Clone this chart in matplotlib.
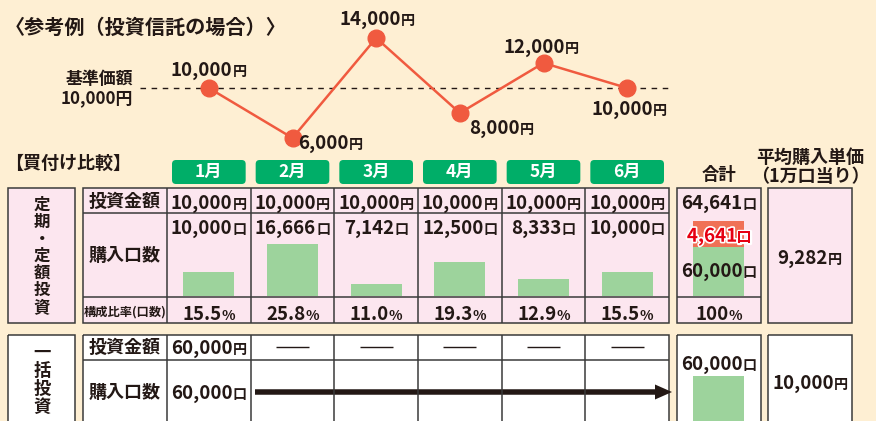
import matplotlib.pyplot as plt
from matplotlib.patches import Rectangle, FancyBboxPatch, FancyArrow
import matplotlib.patheffects as pe

plt.rcParams['font.family'] = ['Noto Sans CJK JP', 'DejaVu Sans']

# data
months = ["1月", "2月", "3月", "4月", "5月", "6月"]
prices = [10000, 6000, 14000, 8000, 12000, 10000]       # 基準価額 (円)
base_price = 10000
amounts = [10000, 10000, 10000, 10000, 10000, 10000]    # 投資金額 (円)
units = [10000, 16666, 7142, 12500, 8333, 10000]        # 購入口数 (口)
shares = ["15.5", "25.8", "11.0", "19.3", "12.9", "15.5"]
total_units = 64641
extra_units = 4641
lump_amount = 60000
lump_units = 60000
avg_dca = 9282
avg_lump = 10000

BG = '#FEEFD3'
PINK = '#FCE6EF'
GREEN_HDR = '#00AE68'
BAR = '#9DD39C'
RED_BAR = '#F07156'
LINE = '#F05A3F'
INK = '#231815'
EDGE = '#3A3A3A'

NUM = 13.5   # size of the figures in the table

W, H = 876, 421
fig = plt.figure(figsize=(W / 100, H / 100), dpi=100, facecolor=BG)


def px_axes(x0, y0, x1, y1, zorder=1):
    a = fig.add_axes([x0 / W, 1 - y1 / H, (x1 - x0) / W, (y1 - y0) / H], zorder=zorder)
    a.axis('off')
    return a


base = px_axes(0, 0, W, H, zorder=0)
base.set_xlim(0, W)
base.set_ylim(H, 0)
top = px_axes(0, 0, W, H, zorder=5)
top.set_xlim(0, W)
top.set_ylim(H, 0)

renderer = fig.canvas.get_renderer()

col_w = (669 - 167) / 6
col_x = [167 + i * col_w for i in range(7)]
col_c = [167 + (i + 0.5) * col_w for i in range(6)]


def num_unit(x, y, num, unit, size=NUM, ratio=0.75, ha='center', color=INK,
             weight='bold', **kw):
    em = size * 100 / 72
    yb = y + 0.36 * em
    t1 = top.text(x, yb, num, fontsize=size, color=color, weight=weight,
                  ha='left', va='baseline', **kw)
    t2 = top.text(x, yb, unit, fontsize=size * ratio, color=color, weight=weight,
                  ha='left', va='baseline', **kw)
    w1 = t1.get_window_extent(renderer).width
    w2 = t2.get_window_extent(renderer).width
    left = {'center': x - (w1 + w2) / 2, 'left': x, 'right': x - w1 - w2}[ha]
    t1.set_x(left)
    t2.set_x(left + w1)


def frame(x0, y0, x1, y1, fill):
    base.add_patch(Rectangle((x0, y0), x1 - x0, y1 - y0, fc=fill, ec='none'))
    top.add_patch(Rectangle((x0, y0), x1 - x0, y1 - y0, fc='none', ec=EDGE, lw=1.1))


def label(x, y, s, size=13, **kw):
    top.text(x, y, s, fontsize=size, weight='bold', color=INK, va='center', **kw)


# titles
label(5, 27, "〈参考例（投資信託の場合）〉", size=14.5, ha='left')
label(5, 163, "【買付け比較】", size=13, ha='left')
label(133, 79, "基準価額", size=12.2, ha='right')
label(133, 98, "10,000円", size=12.2, ha='right')

# price line
line_ax = px_axes(167, 38, 669, 138, zorder=2)
line_ax.set_xlim(-0.5, 5.5)
line_ax.set_ylim(6000, 14000)
xs = list(range(len(prices)))
x_left = (140 - 167) / col_w - 0.5
x_right = (668 - 167) / col_w - 0.5
line_ax.plot([x_left, x_right], [base_price, base_price], ls=(0, (4, 4)), color=INK,
             lw=1.0, clip_on=False, zorder=1)
line_ax.plot(xs, prices, color=LINE, lw=1.8, marker='o', ms=12, clip_on=False, zorder=3)

# price labels: (dx, dy, ha) in pixels relative to each point
label_pos = [(0, -19, 'center'), (6, 4, 'left'), (1, -20, 'center'),
             (9, 14, 'left'), (-2, -17, 'center'), (2, 20, 'center')]
to_px = line_ax.transData + top.transData.inverted()
for i, p in enumerate(prices):
    px, py = to_px.transform((i, p))
    dx, dy, ha = label_pos[i]
    num_unit(px + dx, py + dy, f"{p:,}", "円", ha=ha)

# month headers
for i, m in enumerate(months):
    top.add_patch(FancyBboxPatch((col_x[i] + 5, 160), col_w - 10, 24,
                                 boxstyle='round,pad=0,rounding_size=4',
                                 fc=GREEN_HDR, ec='none'))
    top.text(col_c[i], 172, m, fontsize=12.5, weight='bold', color='white',
             ha='center', va='center')

label(719, 175, "合計", size=12.5, ha='center')
label(810, 157, "平均購入単価", ha='center')
label(810, 177, "（1万口当り）", ha='center')

# ---- 定期・定額投資 table ----
frame(8, 188, 75, 323, PINK)
for k, ch in enumerate("定期・定額投資"):
    label(42, 205 + k * 17, ch, size=11.8, ha='center')

frame(83, 188, 669, 323, PINK)
top.hlines([213, 297], 83, 669, color=EDGE, lw=1.1)
top.vlines(col_x[:-1], 188, 323, color=EDGE, lw=1.1)
label(125, 201, "投資金額", ha='center')
label(125, 255, "購入口数", ha='center')
label(125, 312, "構成比率(口数)", size=8.8, ha='center')

bar_ax = px_axes(167, 213, 669, 296.4, zorder=1)
bar_ax.set_xlim(-0.5, 5.5)
bar_ax.set_ylim(4300, 4300 + 83.4 / 0.0042)
bar_ax.bar(xs, units, width=0.61, color=BAR)

for i in range(6):
    num_unit(col_c[i], 202, f"{amounts[i]:,}", "円")
    num_unit(col_c[i], 227, f"{units[i]:,}", "口")
    num_unit(col_c[i], 313, shares[i], "%")

# total box
frame(677, 188, 761, 323, PINK)
top.hlines(297, 677, 761, color=EDGE, lw=1.1)
tot_ax = px_axes(693, 213, 744, 296.4, zorder=1)
tot_ax.set_xlim(-0.5, 0.5)
tot_ax.set_ylim(51250, 51250 + 83.4 / 0.0056)
tot_ax.bar([0], [lump_units], width=1.0, color=BAR)
tot_ax.bar([0], [extra_units], bottom=[lump_units], width=1.0, color=RED_BAR)
num_unit(719, 202, f"{total_units:,}", "口")
num_unit(719, 235, f"{extra_units:,}", "口", color='#E60012',
         path_effects=[pe.withStroke(linewidth=2.4, foreground='white')])
num_unit(719, 270, f"{lump_units:,}", "口")
num_unit(719, 313, "100", "%")

frame(768, 188, 852, 323, PINK)
num_unit(810, 257, f"{avg_dca:,}", "円")

# ---- 一括投資 table ----
frame(8, 335, 75, 440, 'white')
for k, ch in enumerate("一括投資"):
    label(42, 353 + k * 18, ch, size=12.5, ha='center')

frame(83, 335, 669, 440, 'white')
top.hlines(360, 83, 669, color=EDGE, lw=1.1)
top.vlines(col_x[:-1], 335, 440, color=EDGE, lw=1.1)
label(125, 347, "投資金額", ha='center')
label(125, 392, "購入口数", ha='center')
num_unit(col_c[0], 347, f"{lump_amount:,}", "円")
num_unit(col_c[0], 392, f"{lump_units:,}", "口")
# "—" placeholders for the months without purchase
top.hlines([347] * 5, [c - 16.5 for c in col_c[1:]], [c + 16.5 for c in col_c[1:]],
           color=INK, lw=1.0)
top.add_patch(FancyArrow(255, 392, 417, 0, width=5.5, head_width=15, head_length=17,
                         length_includes_head=True, fc=INK, ec='none'))

frame(677, 335, 761, 440, 'white')
lump_ax = px_axes(693, 376, 744, 421, zorder=1)
lump_ax.set_xlim(-0.5, 0.5)
lump_ax.set_ylim(0, lump_units)
lump_ax.bar([0], [lump_units], width=1.0, color=BAR)
num_unit(719, 363, f"{lump_units:,}", "口")

frame(768, 335, 852, 440, 'white')
num_unit(810, 382, f"{avg_lump:,}", "円")

fig.savefig("out.png", dpi=100, facecolor=BG)
